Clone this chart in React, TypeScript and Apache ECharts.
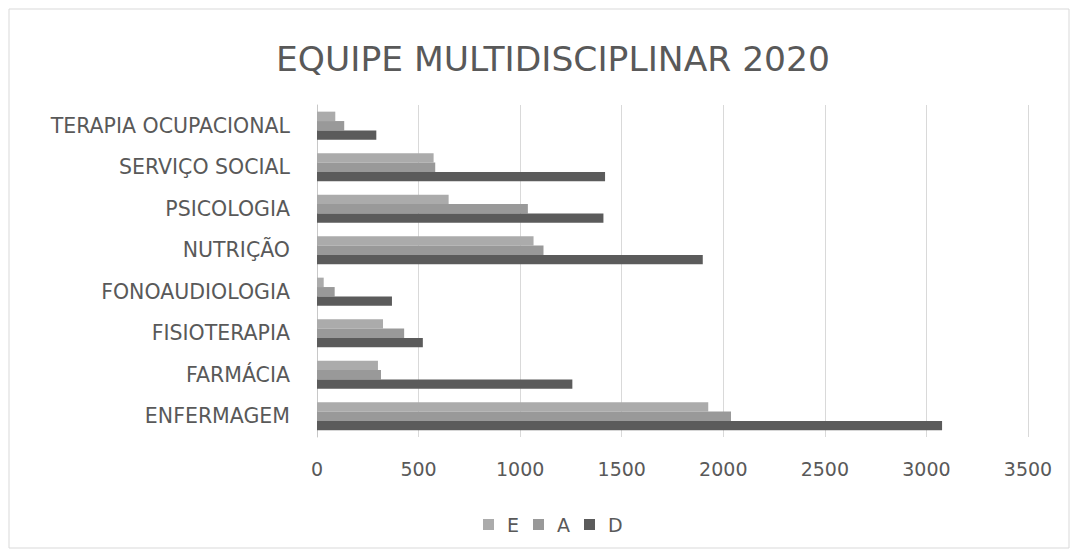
import React, { useEffect, useRef } from "react";
import * as echarts from "echarts";

const categories = [
  "ENFERMAGEM",
  "FARMÁCIA",
  "FISIOTERAPIA",
  "FONOAUDIOLOGIA",
  "NUTRIÇÃO",
  "PSICOLOGIA",
  "SERVIÇO SOCIAL",
  "TERAPIA OCUPACIONAL",
];
const seriesE = [1926, 300, 325, 33, 1066, 648, 574, 90];
const seriesA = [2038, 315, 429, 87, 1115, 1038, 582, 134];
const seriesD = [3077, 1257, 521, 369, 1899, 1410, 1418, 292];
const seriesNames = ["E", "A", "D"];
const colors = ["#ababab", "#999999", "#5b5b5b"];

const FONT = "DejaVu Sans";

export default function App() {
  const ref = useRef<HTMLDivElement>(null);
  useEffect(() => {
    if (!ref.current) return;
    const chart = echarts.init(ref.current, undefined, { renderer: "svg" });
    const data = [seriesE, seriesA, seriesD];
    chart.setOption({
      animation: false,
      backgroundColor: "#ffffff",
      title: {
        text: "EQUIPE MULTIDISCIPLINAR 2020",
        left: 548,
        top: 36,
        textAlign: "center",
        textStyle: { fontFamily: FONT, fontSize: 34.5, fontWeight: "normal", color: "#595959" },
      },
      legend: {
        data: seriesNames,
        left: 478,
        top: 510,
        itemWidth: 11,
        itemHeight: 11,
        itemGap: 14,
        icon: "rect",
        textStyle: { fontFamily: FONT, fontSize: 19, color: "#595959", padding: [0, 0, 0, 8] },
      },
      graphic: [
        {
          type: "rect",
          shape: { x: 9, y: 9, width: 1060, height: 539 },
          style: { fill: "none", stroke: "#d9d9d9", lineWidth: 1 },
          silent: true,
        },
      ],
      grid: { left: 317, right: 50, top: 105, bottom: 121, containLabel: false },
      xAxis: {
        type: "value",
        min: 0,
        max: 3500,
        interval: 500,
        axisLine: { show: false },
        axisTick: { show: false },
        splitLine: { show: true, lineStyle: { color: "#d9d9d9", width: 1 } },
        axisLabel: {
          fontFamily: FONT,
          fontSize: 19,
          color: "#595959",
          margin: 22,
          formatter: (v: number) => String(v),
        },
      },
      yAxis: {
        type: "category",
        data: categories,
        axisLine: { show: true, lineStyle: { color: "#c8c8c8", width: 1 } },
        axisTick: { show: false },
        axisLabel: { fontFamily: FONT, fontSize: 20.5, color: "#595959", margin: 27 },
      },
      series: seriesNames.map((name, i) => ({
        name,
        type: "bar",
        data: data[i],
        barGap: "0%",
        barCategoryGap: "32%",
        itemStyle: { color: colors[i] },
      })),
    });
    return () => chart.dispose();
  }, []);
  return (
    <div
      ref={ref}
      style={{ position: "fixed", left: 0, top: 0, width: 1078, height: 558 }}
    />
  );
}
